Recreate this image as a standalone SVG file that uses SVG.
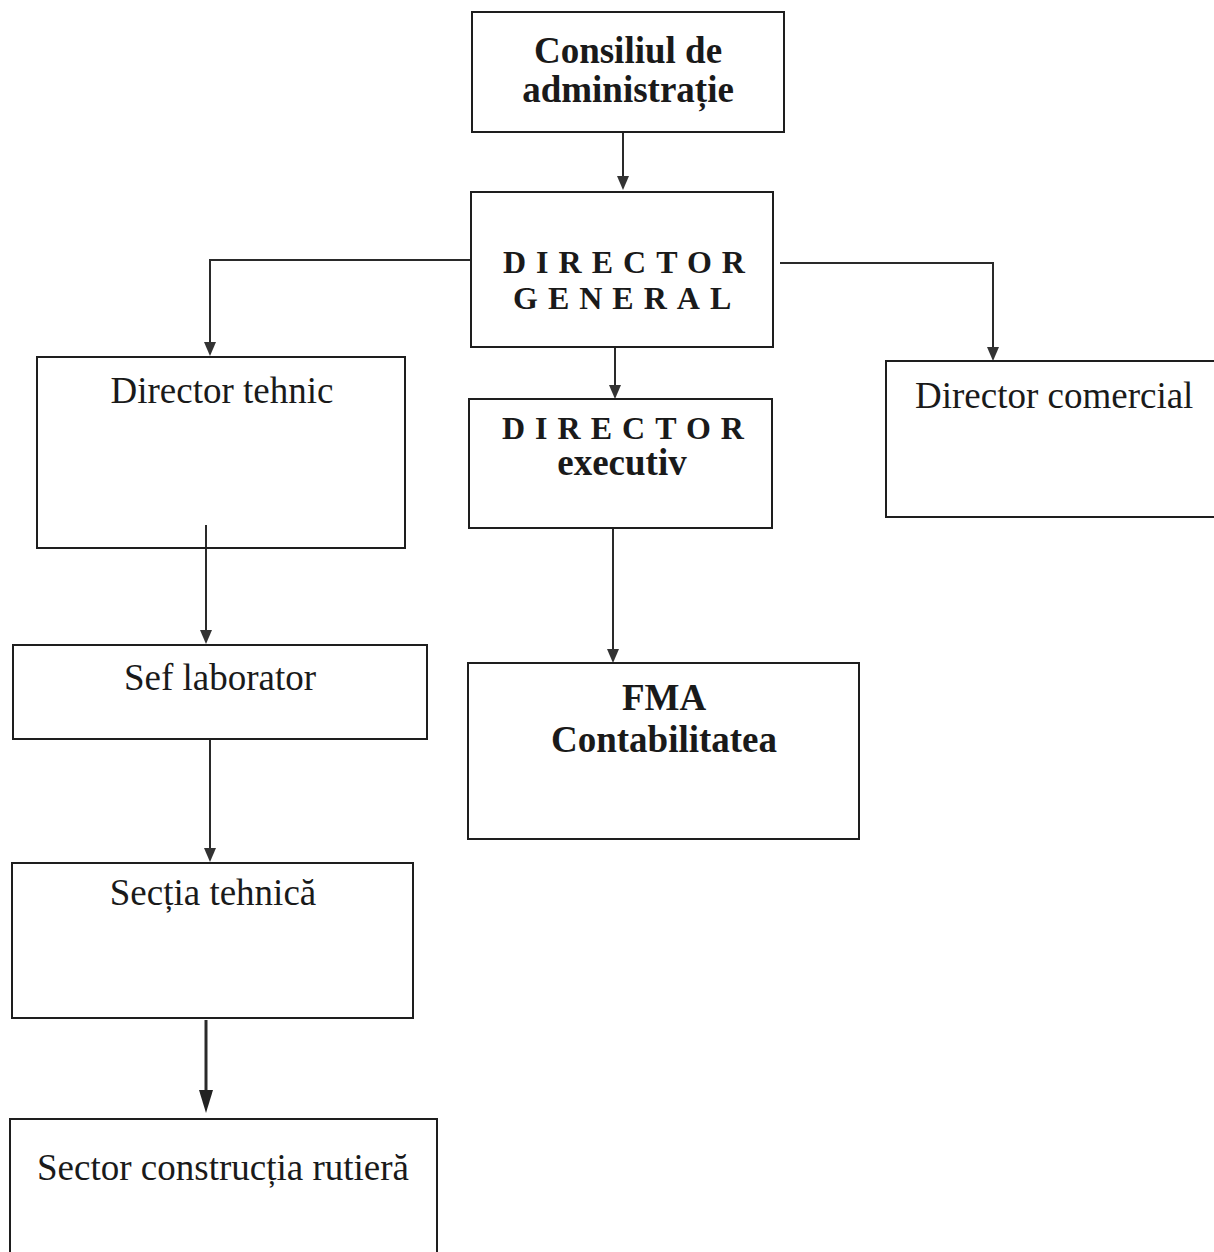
<svg xmlns="http://www.w3.org/2000/svg" width="1214" height="1252" viewBox="0 0 1214 1252">
<style>
.box{fill:none;stroke:#1e1e1e;stroke-width:2}
.con{fill:none;stroke:#2a2a2a;stroke-width:2}
.ah{fill:#333}
.b{font-family:"Liberation Serif","Times New Roman",serif;font-weight:bold;fill:#1a1a1a}
.r{font-family:"Liberation Serif","Times New Roman",serif;fill:#1a1a1a;font-size:37px}
.sp{font-size:32px;letter-spacing:10px}
</style>
<rect width="1214" height="1252" fill="#fff"/>
<g id="connectors">
<path class="con" d="M623,133 V178"/>
<path class="con" d="M471,260 H210 V344"/>
<path class="con" d="M780,263 H993 V349"/>
<path class="con" d="M615,348 V387"/>
<path class="con" d="M613,528 V651"/>
<path class="con" d="M206,525 V632"/>
<path class="con" d="M210,740 V850"/>
<path class="con" d="M206,1020 V1095" style="stroke-width:3"/>
<path class="ah" d="M617,176 L629,176 L623,190 Z"/>
<path class="ah" d="M204,342 L216,342 L210,356 Z"/>
<path class="ah" d="M987,347 L999,347 L993,361 Z"/>
<path class="ah" d="M609,385 L621,385 L615,399 Z"/>
<path class="ah" d="M607,649 L619,649 L613,663 Z"/>
<path class="ah" d="M200,630 L212,630 L206,644 Z"/>
<path class="ah" d="M204,848 L216,848 L210,862 Z"/>
<path class="ah" d="M199,1090 L213,1090 L206,1113 Z" style="fill:#222"/>
</g>
<g id="consiliul">
<rect class="box" x="472" y="12" width="312" height="120"/>
<text class="b" x="628" y="63" font-size="37" text-anchor="middle">Consiliul de</text>
<text class="b" x="628" y="102" font-size="37" text-anchor="middle">administrație</text>
</g>
<g id="director-general">
<rect class="box" x="471" y="192" width="302" height="155"/>
<text class="b sp" x="503" y="273">DIRECTOR</text>
<text class="b sp" x="513" y="309">GENERAL</text>
</g>
<g id="director-executiv">
<rect class="box" x="469" y="399" width="303" height="129"/>
<text class="b sp" x="502" y="439">DIRECTOR</text>
<text class="b" x="622" y="475" font-size="37" text-anchor="middle">executiv</text>
</g>
<g id="fma">
<rect class="box" x="468" y="663" width="391" height="176"/>
<text class="b" x="664" y="710" font-size="37" text-anchor="middle">FMA</text>
<text class="b" x="664" y="752" font-size="37" text-anchor="middle">Contabilitatea</text>
</g>
<g id="director-tehnic">
<rect class="box" x="37" y="357" width="368" height="191"/>
<text class="r" x="222" y="403" text-anchor="middle">Director tehnic</text>
</g>
<g id="director-comercial">
<rect class="box" x="886" y="361" width="340" height="156"/>
<text class="r" x="915" y="408">Director comercial</text>
</g>
<g id="sef-laborator">
<rect class="box" x="13" y="645" width="414" height="94"/>
<text class="r" x="220" y="690" text-anchor="middle">Sef laborator</text>
</g>
<g id="sectia-tehnica">
<rect class="box" x="12" y="863" width="401" height="155"/>
<text class="r" x="213" y="905" text-anchor="middle">Secția tehnică</text>
</g>
<g id="sector-constructia">
<rect class="box" x="10" y="1119" width="427" height="150"/>
<text class="r" x="223" y="1180" text-anchor="middle">Sector construcția rutieră</text>
</g>
</svg>
